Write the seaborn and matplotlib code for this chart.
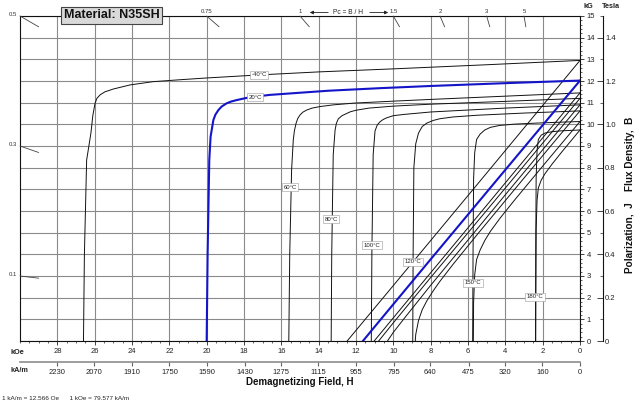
import matplotlib
matplotlib.use("Agg")
import matplotlib.pyplot as plt
import seaborn as sns
import numpy as np
import pandas as pd
from matplotlib.ticker import MultipleLocator, FixedLocator

# ---------------- data (H in kOe, J in kG) ----------------
temps = ["-40°C", "20°C", "60°C", "80°C", "100°C", "120°C", "150°C", "180°C"]

H_m40 = [0, 5, 10, 14, 17.2, 20, 21.4, 22.86, 24.1, 25.0, 25.45, 25.71, 25.88, 25.98, 26.1, 26.2, 26.43, 26.55, 26.6]
J_m40 = [12.95, 12.75, 12.56, 12.42, 12.28, 12.14, 12.06, 11.97, 11.82, 11.63, 11.5, 11.36, 11.2, 10.97, 10.4, 9.6, 8.35, 4.0, 0.0]

H_20 = [0, 4, 8, 10.7, 13.5, 16.6, 17.4, 17.86, 18.39, 18.7, 18.93, 19.2, 19.37, 19.53, 19.64, 19.79, 19.86, 19.95, 20.0]
J_20 = [12.02, 11.9, 11.77, 11.67, 11.55, 11.36, 11.28, 11.22, 11.12, 11.05, 10.97, 10.82, 10.66, 10.45, 10.2, 9.43, 8.35, 4.0, 0.0]

H_60 = [0, 4, 8, 10, 12.1, 13.2, 13.93, 14.35, 14.64, 14.85, 15.0, 15.12, 15.21, 15.3, 15.36, 15.45, 15.55, 15.6]
J_60 = [11.45, 11.3, 11.15, 11.07, 10.98, 10.9, 10.82, 10.75, 10.66, 10.56, 10.43, 10.27, 10.05, 9.7, 9.28, 7.9, 4.0, 0.0]

H_80 = [0, 4, 8, 10, 11.3, 12.0, 12.3, 12.5, 12.75, 12.95, 13.05, 13.12, 13.22, 13.3, 13.33]
J_80 = [11.2, 11.06, 10.93, 10.84, 10.75, 10.65, 10.58, 10.5, 10.4, 10.25, 10.05, 9.74, 8.6, 4.0, 0.0]

H_100 = [0, 4, 8, 9.4, 10.0, 10.36, 10.55, 10.71, 10.86, 10.98, 11.08, 11.15, 11.18]
J_100 = [10.9, 10.75, 10.57, 10.46, 10.4, 10.3, 10.22, 10.12, 9.97, 9.7, 8.6, 4.0, 0.0]

H_120 = [0, 3, 5.5, 6.8, 7.5, 7.86, 8.2, 8.45, 8.65, 8.8, 8.9, 8.94, 8.96]
J_120 = [10.62, 10.52, 10.42, 10.34, 10.26, 10.18, 10.06, 9.9, 9.6, 9.1, 8.0, 4.0, 0.0]

H_150 = [0, 2, 3.5, 4.3, 4.8, 5.1, 5.35, 5.54, 5.64, 5.7, 5.73, 5.75]
J_150 = [10.13, 10.07, 10.01, 9.95, 9.86, 9.74, 9.55, 9.3, 8.7, 7.5, 4.0, 0.0]

H_180 = [0, 1.0, 1.5, 1.87, 2.08, 2.23, 2.3, 2.35, 2.37, 2.38]
J_180 = [9.74, 9.7, 9.66, 9.6, 9.5, 9.3, 8.8, 7.5, 4.0, 0.0]

H_curves = [H_m40, H_20, H_60, H_80, H_100, H_120, H_150, H_180]
J_curves = [J_m40, J_20, J_60, J_80, J_100, J_120, J_150, J_180]

# label positions (on the intrinsic curves)
label_H = [17.2, 17.4, 15.53, 13.34, 11.14, 8.94, 5.73, 2.4]
label_J = [12.28, 11.26, 7.1, 5.63, 4.43, 3.65, 2.68, 2.05]

# axis tick labels
koe_ticks = list(range(0, 29, 2))
kam_ticks = [2230, 2070, 1910, 1750, 1590, 1430, 1275, 1115, 955, 795, 640, 475, 320, 160, 0]
tesla_ticks = [0, 0.2, 0.4, 0.6, 0.8, 1.0, 1.2, 1.4]
tesla_labels = ["0", "0.2", "0.4", "0.6", "0.8", "1.0", "1.2", "1.4"]

# permeance coefficient marks
pc_values = [0.1, 0.3, 0.5, 0.75, 1, 1.5, 2, 3, 5]
pc_labels = ["0.1", "0.3", "0.5", "0.75", "1", "1.5", "2", "3", "5"]

# ---------------- figure ----------------
sns.set_style("white")
plt.rcParams["font.family"] = ["Liberation Sans", "DejaVu Sans"]

W, Hpx = 640, 403
fig = plt.figure(figsize=(6.4, 4.03), dpi=100)
ax = fig.add_axes([20 / W, 62 / Hpx, 560 / W, 325 / Hpx])

df = pd.concat([pd.DataFrame({"H": h, "J": j, "temp": t})
                for h, j, t in zip(H_curves, J_curves, temps)], ignore_index=True)
df["B"] = df["J"] - df["H"]

BLUE = "#1414c8"
for t in temps:
    sub = df[df["temp"] == t]
    c = BLUE if t == "20°C" else "#111111"
    lw = 1.5 if t == "20°C" else 0.7
    z = 4 if t == "20°C" else 3
    sns.lineplot(data=sub, x="H", y="J", ax=ax, color=c, lw=lw, sort=False,
                 estimator=None, legend=False, zorder=z)
    sns.lineplot(data=sub, x="H", y="B", ax=ax, color=c, lw=lw, sort=False,
                 estimator=None, legend=False, zorder=z)

ax.set_xlim(30, 0)
ax.set_ylim(0, 15)
ax.set_xlabel("")
ax.set_ylabel("")

# Tesla axis (created first, since twinx moves the parent's ticks to the left)
ax2 = ax.twinx()
ax2.set_ylim(0, 1.5)
ax2.spines["right"].set_position(("axes", (603 - 20) / 560))
for k in ["top", "left", "bottom"]:
    ax2.spines[k].set_visible(False)
ax2.spines["right"].set_color("#111111")
ax2.spines["right"].set_linewidth(0.8)
ax2.yaxis.set_major_locator(FixedLocator(tesla_ticks))
ax2.set_yticklabels(tesla_labels)
ax2.yaxis.set_minor_locator(MultipleLocator(0.1))
ax2.tick_params(axis="y", which="major", right=True, left=False, direction="in",
                length=4, width=0.6, labelsize=5.5, pad=1.5, labelcolor="#222222")
ax2.tick_params(axis="y", which="minor", right=True, left=False, direction="in",
                length=2, width=0.5)
ax2.grid(False)
ax2.set_ylabel("")

ax.xaxis.set_major_locator(FixedLocator(koe_ticks))
ax.xaxis.set_minor_locator(MultipleLocator(0.5))
ax.yaxis.set_major_locator(MultipleLocator(1))
ax.yaxis.set_minor_locator(MultipleLocator(0.2))
ax.set_axisbelow(True)
ax.grid(True, which="major", color="#8a8a8a", lw=0.8)
ax.grid(False, which="minor")
ax.yaxis.tick_right()
ax.yaxis.set_label_position("right")
ax.tick_params(axis="x", which="major", bottom=True, top=False, direction="out",
               length=3, width=0.6, labelsize=5.5, pad=2, labelcolor="#222222")
ax.tick_params(axis="x", which="minor", bottom=True, top=False, direction="out",
               length=1.5, width=0.5)
ax.tick_params(axis="y", which="major", right=True, left=False, labelright=True,
               labelleft=False, direction="out", length=3, width=0.6, labelsize=5.5,
               pad=2, labelcolor="#222222")
ax.tick_params(axis="y", which="minor", right=True, left=False, direction="out",
               length=1.5, width=0.5)
for s in ax.spines.values():
    s.set_color("#111111")
    s.set_linewidth(0.8)

# kA/m axis
sec = ax.secondary_xaxis(-21 / 325, functions=(lambda x: x * 79.577, lambda x: x / 79.577))
sec.set_xticks(kam_ticks)
sec.set_xticklabels([str(v) for v in kam_ticks])
sec.spines["bottom"].set_color("#8c8c8c")
sec.spines["bottom"].set_linewidth(1.2)
sec.tick_params(axis="x", which="major", bottom=True, direction="out", length=3,
                width=0.8, color="#666666", labelsize=5.5, pad=2, labelcolor="#222222")
sec.tick_params(axis="x", which="minor", bottom=False)

# permeance coefficient marks
for pc, lab in zip(pc_values, pc_labels):
    if 15 / pc >= 30 - 1e-9:
        hs = np.array([30, 29])
        ax.plot(hs, pc * hs, color="#444444", lw=0.6, clip_on=False, zorder=5)
        ax.annotate(lab, xy=(30, pc * 30), xytext=(-5, 1), textcoords="offset points",
                    ha="center", va="center", fontsize=4.3, color="#333333",
                    annotation_clip=False)
    else:
        bs = np.array([15, 14.5])
        ax.plot(bs / pc, bs, color="#444444", lw=0.6, clip_on=False, zorder=5)
        ax.annotate(lab, xy=(15 / pc, 15), xytext=(0, 3), textcoords="offset points",
                    ha="center", va="center", fontsize=4.3, color="#333333",
                    annotation_clip=False)

# temperature labels
for t, hx, jy in zip(temps, label_H, label_J):
    ax.text(hx, jy, t, ha="center", va="center", fontsize=4.3, color="#222222", zorder=6,
            bbox=dict(boxstyle="square,pad=0.25", fc="white", ec="#999999", lw=0.4))

def fx(x):
    return x / W

def fy(y):
    return 1 - y / Hpx

# title
fig.text(fx(111.5), fy(15), "Material: N35SH", ha="center", va="center", fontsize=9,
         weight="bold", color="#111111", zorder=10,
         bbox=dict(boxstyle="square,pad=0.2", fc="#d9d9d9", ec="#444444", lw=0.8))

# Pc = B / H with arrows
fig.text(fx(348), fy(12.5), "Pc = B / H", ha="center", va="center", fontsize=4.8, color="#222222")
ax.annotate("", xy=(fx(307), fy(12.5)), xytext=(fx(331), fy(12.5)), xycoords="figure fraction",
            textcoords="figure fraction",
            arrowprops=dict(arrowstyle="-|>", lw=0.6, color="#222222", mutation_scale=5))
ax.annotate("", xy=(fx(391), fy(12.5)), xytext=(fx(367), fy(12.5)), xycoords="figure fraction",
            textcoords="figure fraction",
            arrowprops=dict(arrowstyle="-|>", lw=0.6, color="#222222", mutation_scale=5))

# unit headers
fig.text(fx(588), fy(6.5), "kG", ha="center", va="center", fontsize=5.2, weight="bold", color="#222222")
fig.text(fx(611), fy(6.5), "Tesla", ha="center", va="center", fontsize=5.2, weight="bold", color="#222222")
fig.text(fx(17.5), fy(352.5), "kOe", ha="center", va="center", fontsize=5.2, weight="bold", color="#222222")
fig.text(fx(19), fy(370), "kA/m", ha="center", va="center", fontsize=5.2, weight="bold", color="#222222")

# axis titles
fig.text(fx(300), fy(382), "Demagnetizing Field, H", ha="center", va="center", fontsize=7,
         weight="bold", color="#111111")
fig.text(fx(630), fy(238), "Polarization,  J", ha="center", va="center", fontsize=7.2,
         weight="bold", rotation=90, color="#111111")
fig.text(fx(630), fy(154), "Flux Density,  B", ha="center", va="center", fontsize=7.2,
         weight="bold", rotation=90, color="#111111")

fig.text(fx(2), fy(398), "1 kA/m = 12.566 Oe      1 kOe = 79.577 kA/m", ha="left", va="center",
         fontsize=4.6, color="#222222")

fig.savefig("out.png", dpi=100)
